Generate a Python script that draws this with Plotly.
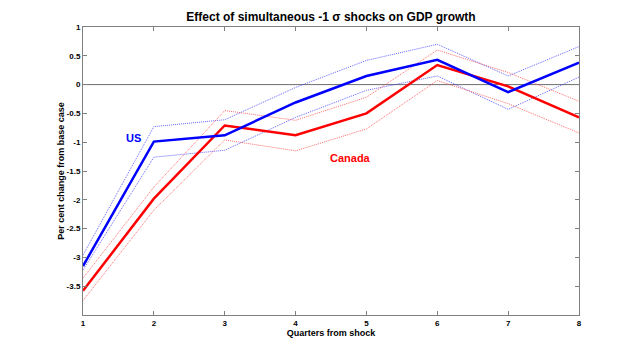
import plotly.graph_objects as go

quarters = [1, 2, 3, 4, 5, 6, 7, 8]
us = [-3.15, -0.99, -0.88, -0.31, 0.15, 0.43, -0.13, 0.38]
us_upper = [-2.96, -0.73, -0.61, -0.05, 0.42, 0.70, 0.15, 0.66]
us_lower = [-3.22, -1.26, -1.14, -0.57, -0.10, 0.15, -0.43, 0.13]
canada = [-3.58, -1.98, -0.71, -0.88, -0.50, 0.34, -0.03, -0.57]
canada_upper = [-3.36, -1.78, -0.45, -0.62, -0.22, 0.60, 0.21, -0.29]
canada_lower = [-3.75, -2.18, -0.96, -1.15, -0.77, 0.07, -0.33, -0.84]
yticks = [-3.5, -3, -2.5, -2, -1.5, -1, -0.5, 0, 0.5, 1]

BLUE = "#0000ff"
RED = "#ff0000"
FONT = "Liberation Sans, Arial, sans-serif"

fig = go.Figure()
for ys, c in [(us_upper, "rgba(50,50,255,0.75)"), (us_lower, "rgba(50,50,255,0.75)"),
              (canada_upper, "rgba(255,60,60,0.75)"), (canada_lower, "rgba(255,60,60,0.75)")]:
    fig.add_trace(go.Scatter(x=quarters, y=ys, mode="lines",
                             line=dict(color=c, width=1, dash="1px,1px"), showlegend=False))
fig.add_trace(go.Scatter(x=quarters, y=canada, mode="lines",
                         line=dict(color=RED, width=2.5), showlegend=False))
fig.add_trace(go.Scatter(x=quarters, y=us, mode="lines",
                         line=dict(color=BLUE, width=2.5), showlegend=False))

fig.add_shape(type="line", xref="x", yref="y", x0=1, x1=8, y0=0, y1=0,
              line=dict(color="#6e6e6e", width=1), layer="below")

fig.add_annotation(x=1.71, y=-0.93, text="<b>US</b>", showarrow=False,
                   font=dict(family=FONT, size=11, color=BLUE))
fig.add_annotation(x=4.77, y=-1.27, text="<b>Canada</b>", showarrow=False,
                   font=dict(family=FONT, size=11, color=RED))

fig.update_layout(
    width=640, height=354,
    margin=dict(l=83, r=61, t=27, b=39),
    paper_bgcolor="white", plot_bgcolor="white",
    font=dict(family=FONT, size=8, color="black"),
    title=dict(text="<b>Effect of simultaneous -1 \u03c3 shocks on GDP growth</b>",
               x=(83 + 579) / 2 / 640, xanchor="center", y=1 - 17 / 354, yanchor="middle",
               font=dict(family=FONT, size=12, color="black")),
)
fig.update_xaxes(range=[1, 8], tickvals=quarters,
                 ticktext=[f"<b>{q}</b>" for q in quarters],
                 ticks="inside", ticklen=4, tickcolor="#808080",
                 showline=True, linecolor="#808080", linewidth=1, mirror="ticks",
                 showgrid=False, zeroline=False,
                 title=dict(text="<b>Quarters from shock</b>", standoff=1,
                            font=dict(family=FONT, size=9)),
                 tickfont=dict(family=FONT, size=8))
fig.update_yaxes(range=[-4, 1], tickvals=yticks,
                 ticktext=[f"<b>{t:g}</b>" for t in yticks],
                 ticks="inside", ticklen=4, tickcolor="#808080",
                 showline=True, linecolor="#808080", linewidth=1, mirror="ticks",
                 showgrid=False, zeroline=False,
                 title=dict(text="<b>Per cent change from base case</b>", standoff=0,
                            font=dict(family=FONT, size=9)),
                 tickfont=dict(family=FONT, size=8))

fig.write_html("out.html")
